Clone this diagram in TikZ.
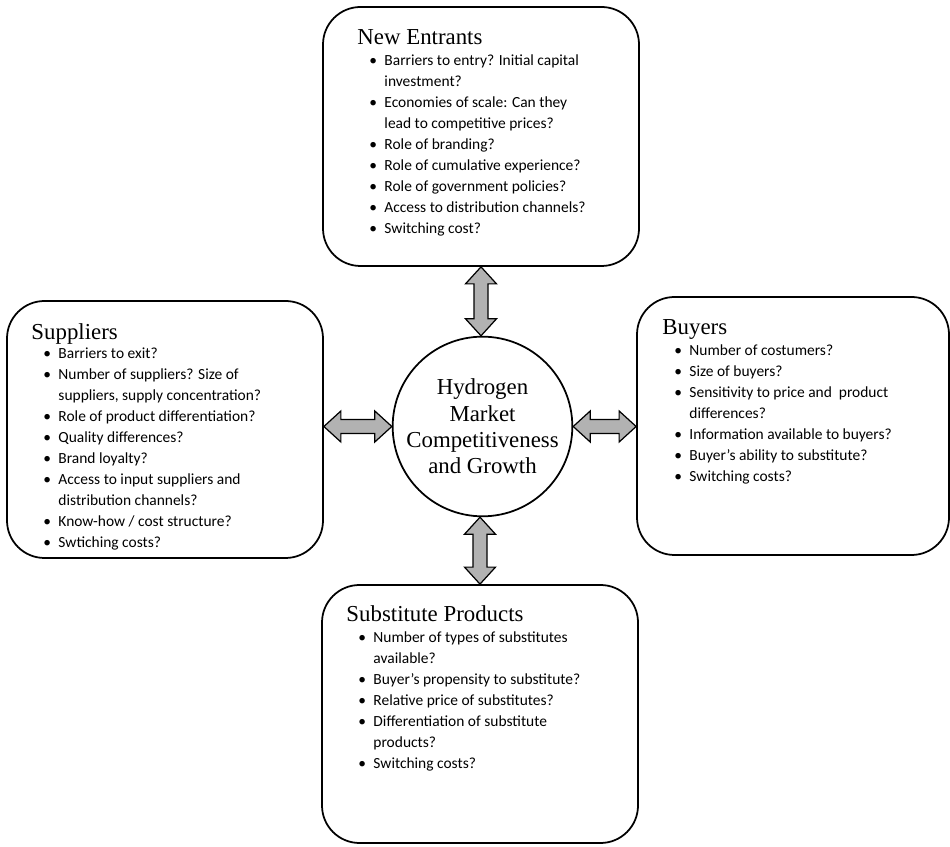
\documentclass[tikz,border=0pt]{standalone}
\usepackage{fontspec}
\setmainfont{Liberation Serif}
\newfontfamily\listfont{Carlito}
\usetikzlibrary{calc, positioning}
\definecolor{arrowgray}{RGB}{178, 178, 178}

% bullet and continuation indent for the question lists
\newcommand{\itm}{\makebox[0.3cm][l]{\textbullet}}
\newcommand{\cnt}{\hspace*{0.3cm}}

% fat double-headed arrow between two anchors
\newcommand{\dblarrow}[2]{%
  \draw[blockarrow] (#1)
    -- ($(#1)!0.34cm!(#2)!0.31cm!90:(#2)$)
    -- ($(#1)!0.34cm!(#2)!0.14cm!90:(#2)$)
    -- ($(#2)!0.34cm!(#1)!0.14cm!-90:(#1)$)
    -- ($(#2)!0.34cm!(#1)!0.31cm!-90:(#1)$)
    -- (#2)
    -- ($(#2)!0.34cm!(#1)!0.31cm!90:(#1)$)
    -- ($(#2)!0.34cm!(#1)!0.14cm!90:(#1)$)
    -- ($(#1)!0.34cm!(#2)!0.14cm!-90:(#2)$)
    -- ($(#1)!0.34cm!(#2)!0.31cm!-90:(#2)$)
    -- cycle;}

\tikzset{
  forcebox/.style={draw, line width=1pt, rounded corners=0.75cm, minimum width=6.32cm, minimum height=5.16cm, inner sep=0pt},
  forcetitle/.style={anchor=base west, inner sep=0pt, font=\fontsize{13}{15}\selectfont},
  forcelist/.style={inner sep=0pt, align=left, font=\listfont\fontsize{8.8}{11.95}\selectfont},
  hub/.style={draw, circle, line width=1pt, minimum size=3.32cm, inner sep=0pt, align=center, font=\fontsize{13}{15}\selectfont},
  blockarrow/.style={draw=black, fill=arrowgray, line width=0.7pt, line join=miter}
}

\begin{document}
\begin{tikzpicture}
  \useasboundingbox (0, 0) rectangle (19, 16.92);

  % Centre
  \node[hub] (hub) at (9.65, 8.39) {Hydrogen\\Market\\Competitiveness\\and Growth};

  % New entrants
  \node[forcebox, minimum height=5.18cm] (ne) at (9.62, 14.19) {};
  \node[forcetitle] (ne-title) at ([shift={(0.70, -0.76)}]ne.north west) {New Entrants};
  \node[forcelist, below right=0.21cm and 0.24cm of ne-title.base west] (ne-list) {%
    \itm Barriers to entry? Initial capital\\
    \cnt investment?\\
    \itm Economies of scale: Can they\\
    \cnt lead to competitive prices?\\
    \itm Role of branding?\\
    \itm Role of cumulative experience?\\
    \itm Role of government policies?\\
    \itm Access to distribution channels?\\
    \itm Switching cost?};

  % Suppliers
  \node[forcebox, minimum height=5.14cm] (sup) at (3.30, 8.33) {};
  \node[forcetitle] (sup-title) at ([shift={(0.50, -0.78)}]sup.north west) {Suppliers};
  \node[forcelist, below right=0.16cm and 0.24cm of sup-title.base west] (sup-list) {%
    \itm Barriers to exit?\\
    \itm Number of suppliers? Size of\\
    \cnt suppliers, supply concentration?\\
    \itm Role of product differentiation?\\
    \itm Quality differences?\\
    \itm Brand loyalty?\\
    \itm Access to input suppliers and\\
    \cnt distribution channels?\\
    \itm Know-how / cost structure?\\
    \itm Swtiching costs?};

  % Buyers
  \node[forcebox, minimum width=6.24cm] (buy) at (15.86, 8.40) {};
  \node[forcetitle] (buy-title) at ([shift={(0.52, -0.76)}]buy.north west) {Buyers};
  \node[forcelist, below right=0.21cm and 0.24cm of buy-title.base west] (buy-list) {%
    \itm Number of costumers?\\
    \itm Size of buyers?\\
    \itm Sensitivity to price and \ product\\
    \cnt differences?\\
    \itm Information available to buyers?\\
    \itm Buyer’s ability to substitute?\\
    \itm Switching costs?};

  % Substitute products
  \node[forcebox] (sub) at (9.60, 2.64) {};
  \node[forcetitle] (sub-title) at ([shift={(0.50, -0.74)}]sub.north west) {Substitute Products};
  \node[forcelist, below right=0.21cm and 0.24cm of sub-title.base west] (sub-list) {%
    \itm Number of types of substitutes\\
    \cnt available?\\
    \itm Buyer’s propensity to substitute?\\
    \itm Relative price of substitutes?\\
    \itm Differentiation of substitute\\
    \cnt products?\\
    \itm Switching costs?};

  % Arrows to the centre
  \dblarrow{ne.south}{ne.south |- hub.north}
  \dblarrow{sup.east |- hub.west}{hub.west}
  \dblarrow{hub.east}{buy.west |- hub.east}
  \dblarrow{hub.south -| sub.north}{sub.north}
\end{tikzpicture}
\end{document}
